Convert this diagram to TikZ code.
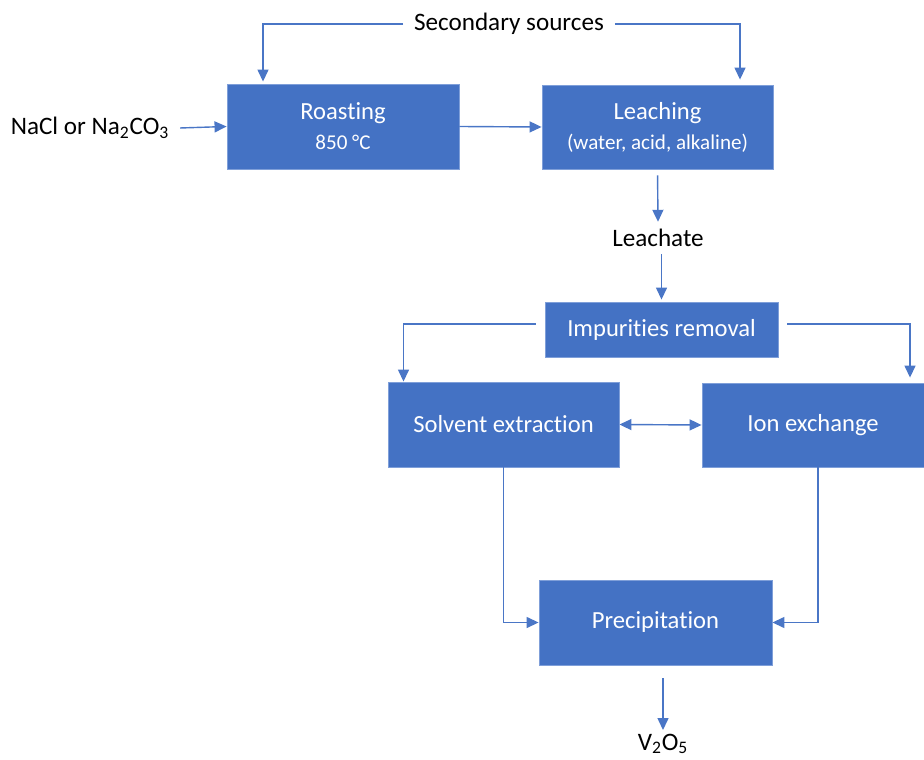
\documentclass[tikz,border=0pt]{standalone}
\usepackage{fontspec}
\setmainfont{Carlito}[Ligatures=NoCommon]
\usepackage{tikz}
\usetikzlibrary{arrows.meta}

\definecolor{boxblue}{HTML}{4472C4}
\definecolor{boxedge}{HTML}{7F9FD9}
\definecolor{flowblue}{HTML}{4A76C6}

\begin{document}
\begin{tikzpicture}[scale = 1,
  box/.style = {fill=boxblue, draw=boxedge, line width=0.5pt, text=white, align=center,
                font=\fontsize{14}{17}\selectfont, inner sep=0pt},
  lbl/.style = {black, font=\fontsize{14.3}{17}\selectfont, inner sep=2pt},
  flow/.style = {flowblue, line width=0.8pt, -{Triangle[length=0.24cm, width=0.22cm]}},
  both/.style = {flowblue, line width=0.8pt, {Triangle[length=0.24cm, width=0.22cm]}-{Triangle[length=0.24cm, width=0.22cm]}}]
\useasboundingbox (0, 0) rectangle (18.48, 15.18);
\node[box, minimum width=4.64cm, minimum height=1.70cm] (roast) at (6.86, 12.65) {Roasting\\[0pt]{\fontsize{12}{15}\selectfont 850~°C}};
\node[box, minimum width=4.62cm, minimum height=1.68cm] (leach) at (13.15, 12.64) {Leaching\\[0pt]{\fontsize{12}{15}\selectfont (water, acid, alkaline)}};
\node[box, minimum width=4.66cm, minimum height=1.10cm] (impur) at (13.23, 8.59) {Impurities removal};
\node[box, minimum width=4.62cm, minimum height=1.70cm] (solv) at (10.07, 6.69) {Solvent extraction};
\node[box, minimum width=4.44cm, minimum height=1.68cm] (ion) at (16.26, 6.68) {Ion exchange};
\node[box, minimum width=4.66cm, minimum height=1.70cm] (prec) at (13.11, 2.73) {Precipitation};
\node[lbl, inner xsep=6pt] (sec) at (10.18, 14.70) {Secondary sources};
\node[lbl, inner xsep=6pt] (nacl) at (1.80, 12.62) {NaCl or Na\textsubscript{2}CO\textsubscript{3}};
\node[lbl, inner ysep=4pt] (leachate) at (13.16, 10.42) {Leachate};
\node[lbl, inner ysep=2pt] (vox) at (13.26, 0.30) {V\textsubscript{2}O\textsubscript{5}};
% top feeds
\draw[flow, shorten >=0.04cm] (sec.west) -| ([xshift=-1.6cm]roast.north);
\draw[flow, shorten >=0.1cm] (sec.east) -| ([xshift=1.65cm]leach.north);
\draw[flow] (nacl.east) -- (roast.west);
\draw[flow] (roast.east) -- (leach.west);
% leaching line
\draw[flow, shorten <=0.12cm] (leach.south) -- (leachate.north);
\draw[flow, shorten >=0.04cm] (leachate.south -| impur.north) -- (impur.north);
\draw[flow, shorten <=0.18cm] ([yshift=0.11cm]impur.west) -| ([xshift=-2.0cm]solv.north);
\draw[flow, shorten <=0.18cm, shorten >=0.1cm] ([yshift=0.11cm]impur.east) -| ([xshift=1.94cm]ion.north);
\draw[both] (solv.east) -- (ion.west);
% to precipitation
\draw[flow] (solv.south) |- (prec.west);
\draw[flow] ([xshift=0.1cm]ion.south) |- (prec.east);
\draw[flow] ([yshift=-0.26cm]prec.south -| vox.north) -- (vox.north);
\end{tikzpicture}
\end{document}
